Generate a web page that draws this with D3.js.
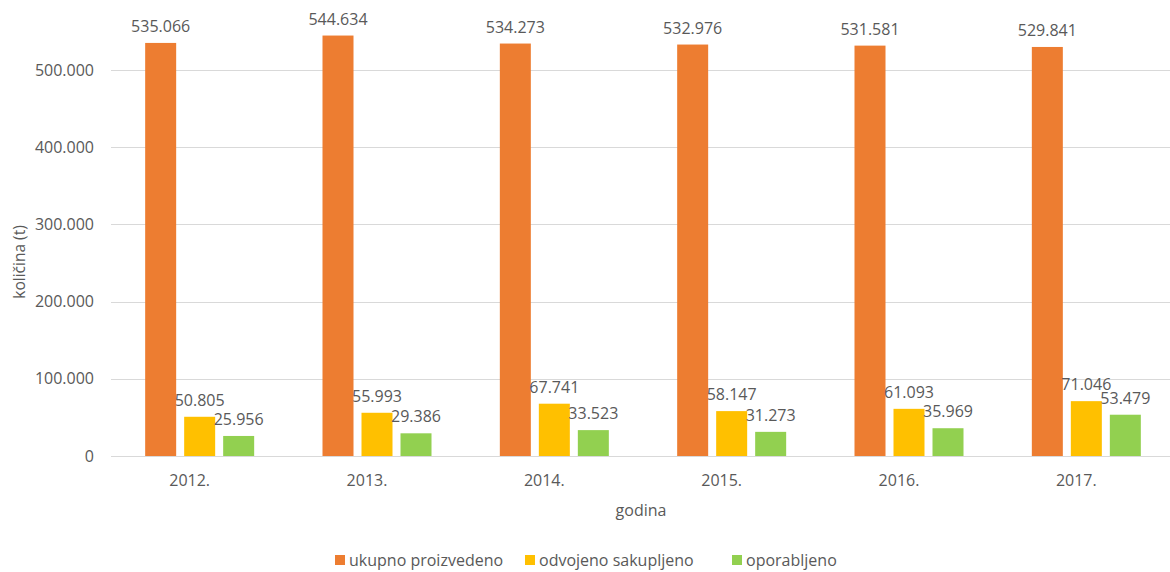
<!DOCTYPE html>
<html>
<head>
<meta charset="utf-8">
<script src="https://cdn.jsdelivr.net/npm/d3@7"></script>
<style>
  body { margin: 0; background: #fff; }
  text { font-family: "Open Sans", "Noto Sans", sans-serif; fill: #595959; }
</style>
</head>
<body>
<script>
const years = ["2012.", "2013.", "2014.", "2015.", "2016.", "2017."];
const seriesNames = ["ukupno proizvedeno", "odvojeno sakupljeno", "oporabljeno"];
const ukupno = [535066, 544634, 534273, 532976, 531581, 529841];
const odvojeno = [50805, 55993, 67741, 58147, 61093, 71046];
const oporabljeno = [25956, 29386, 33523, 31273, 35969, 53479];
const yTicks = [0, 100000, 200000, 300000, 400000, 500000];
const colors = ["#ED7D31", "#FFC000", "#92D050"];

const w = 1170, h = 572;
const margin = ({top: 10, right: -5, bottom: 116, left: 111});

const fmt = v => d3.format(",")(v).replace(/,/g, ".");

const rows = years.map((y, i) => ({year: y, vals: [ukupno[i], odvojeno[i], oporabljeno[i]]}));

const svg = d3.select("body").append("svg")
    .attr("width", w)
    .attr("height", h);

let x = d3.scaleBand()
    .domain(years)
    .range([margin.left, w - margin.right]);

let y = d3.scaleLinear()
    .domain([0, 500000])
    .range([456, 70]);

let barW = 31, gap = 8;
let xs = d3.scaleBand().domain([0, 1, 2]).range([0, 3 * barW + 2 * gap]).paddingInner(gap / (barW + gap));

// gridlines
svg.append("g")
    .selectAll("line")
    .data(yTicks)
    .enter().append("line")
    .attr("x1", margin.left)
    .attr("x2", 1170)
    .attr("y1", d => Math.round(y(d)) + 0.5)
    .attr("y2", d => Math.round(y(d)) + 0.5)
    .attr("stroke", "#d9d9d9")
    .attr("stroke-width", 1);

// y tick labels
svg.append("g")
    .selectAll("text")
    .data(yTicks)
    .enter().append("text")
    .attr("x", 94)
    .attr("y", d => y(d))
    .attr("dy", "0.35em")
    .attr("text-anchor", "end")
    .style("font-size", "16px")
    .text(d => fmt(d));

// bars
let groups = svg.selectAll(".grp")
    .data(rows)
    .enter().append("g")
    .attr("class", "grp")
    .attr("transform", d => `translate(${x(d.year) + x.bandwidth() / 2 - (3 * barW + 2 * gap) / 2},0)`);

groups.selectAll("rect")
    .data(d => d.vals)
    .enter().append("rect")
    .attr("x", (d, i) => xs(i))
    .attr("y", d => y(d))
    .attr("width", xs.bandwidth())
    .attr("height", d => y(0) - y(d))
    .attr("fill", (d, i) => colors[i]);

groups.selectAll("text")
    .data(d => d.vals)
    .enter().append("text")
    .attr("x", (d, i) => xs(i) + xs.bandwidth() / 2)
    .attr("y", d => y(d) - 11)
    .attr("text-anchor", "middle")
    .style("font-size", "16px")
    .text(d => fmt(d));

// x labels
svg.append("g")
    .selectAll("text")
    .data(years)
    .enter().append("text")
    .attr("x", d => x(d) + x.bandwidth() / 2 - 10)
    .attr("y", 486)
    .attr("text-anchor", "middle")
    .style("font-size", "16px")
    .text(d => d);

// axis titles
svg.append("text")
    .attr("x", 641)
    .attr("y", 516)
    .attr("text-anchor", "middle")
    .style("font-size", "16px")
    .text("godina");

svg.append("text")
    .attr("transform", "translate(25,262) rotate(-90)")
    .attr("text-anchor", "middle")
    .style("font-size", "15.5px")
    .text("količina (t)");

// legend
const legendX = [335, 525, 732];
let legend = svg.selectAll(".leg")
    .data(seriesNames)
    .enter().append("g")
    .attr("class", "leg")
    .attr("transform", (d, i) => `translate(${legendX[i]},555)`);

legend.append("rect")
    .attr("width", 10)
    .attr("height", 10)
    .attr("fill", (d, i) => colors[i]);

legend.append("text")
    .attr("x", 14)
    .attr("y", 5)
    .attr("dy", "0.35em")
    .style("font-size", "16px")
    .text(d => d);
</script>
</body>
</html>
